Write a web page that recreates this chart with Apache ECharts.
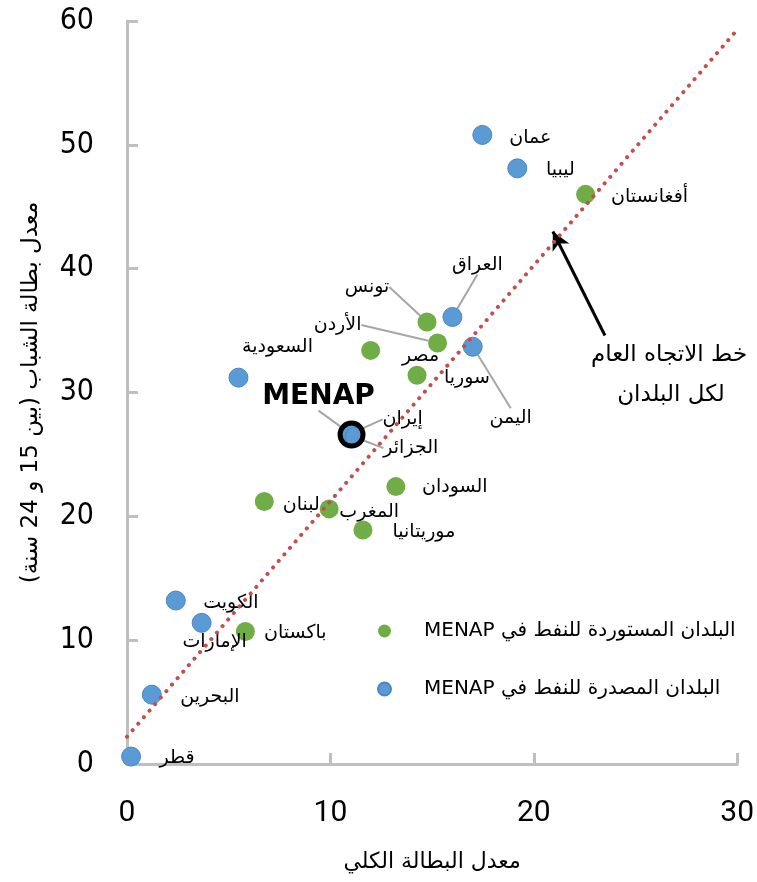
<!DOCTYPE html>
<html dir="rtl" lang="ar">
<head>
<meta charset="utf-8">
<script src="https://cdn.jsdelivr.net/npm/echarts@6/dist/echarts.min.js"></script>
<style>
html,body{margin:0;padding:0;background:#fff;overflow:hidden;}
#chart{width:757px;height:882px;}
</style>
</head>
<body>
<div id="chart"></div>
<script>
// ---- Data ----
const exporterNames = ['عمان','ليبيا','العراق','اليمن','السعودية','إيران','الجزائر','الكويت','الإمارات','البحرين','قطر'];
const exporterTotal = [17.47, 19.19, 16.0, 17.0, 5.48, 11.05, 11.2, 2.40, 3.67, 1.22, 0.2];
const exporterYouth = [50.8, 48.1, 36.1, 33.7, 31.2, 26.7, 26.4, 13.2, 11.4, 5.6, 0.6];

const importerNames = ['أفغانستان','تونس','الأردن','مصر','سوريا','السودان','لبنان','المغرب','موريتانيا','باكستان'];
const importerTotal = [22.55, 14.75, 15.27, 11.98, 14.26, 13.22, 6.75, 9.94, 11.6, 5.82];
const importerYouth = [46.0, 35.7, 34.0, 33.4, 31.4, 22.4, 21.2, 20.6, 18.9, 10.7];

const menapNames = ['MENAP'];
const menapTotal = [11.04];
const menapYouth = [26.6];

const trendX = [0.0, 29.9];
const trendY = [2.2, 59.1];

const arrowFrom = [23.5, 34.6];
const arrowTo = [20.94, 43.0];

const xTicks = [0, 10, 20, 30];
const yTicks = [0, 10, 20, 30, 40, 50, 60];

const importerLegend = 'البلدان المستوردة للنفط في MENAP';
const exporterLegend = 'البلدان المصدرة للنفط في MENAP';
const xTitle = 'معدل البطالة الكلي';
const yTitle = 'معدل بطالة الشباب (بين 15 و 24 سنة)';
const noteLines = ['خط الاتجاه العام', 'لكل البلدان'];

// ---- Label placement (style/layout, pixels relative to the point centre) ----
const labelOffsets = {
  'عمان':[48,3], 'ليبيا':[43,2], 'العراق':[25,-52], 'اليمن':[38,71], 'السعودية':[39,-31],
  'إيران':[51,-14], 'الجزائر':[56,11], 'الكويت':[55,3], 'الإمارات':[13,19], 'البحرين':[58,2], 'قطر':[46,1],
  'أفغانستان':[64,3], 'تونس':[-60,-35], 'الأردن':[-100,-18], 'مصر':[50,6], 'سوريا':[50,3],
  'السودان':[59,0], 'لبنان':[37,4], 'المغرب':[40,3], 'موريتانيا':[61,2], 'باكستان':[50,2],
  'MENAP':[-33,-38]
};
const leaderNames = ['العراق','اليمن','تونس','الأردن','إيران','الجزائر','MENAP'];

const AR_FONT = "'DejaVu Sans', sans-serif";

function buildData(names, xs, ys) {
  return names.map((n, i) => {
    const item = { name: n, value: [xs[i], ys[i]] };
    if (leaderNames.indexOf(n) >= 0) item.labelLine = { show: true };
    return item;
  });
}
function makeLayout(names) {
  return function (p) {
    const o = labelOffsets[names[p.dataIndex]] || [30, 0];
    return {
      x: p.rect.x + p.rect.width / 2 + o[0],
      y: p.rect.y + p.rect.height / 2 + o[1],
      align: 'center',
      verticalAlign: 'middle'
    };
  };
}

const labelStyle = { show: true, formatter: '{b}', color: '#000', fontSize: 19, fontFamily: AR_FONT };
const leaderStyle = { show: false, lineStyle: { color: '#A6A6A6', width: 2 } };
const axisGray = { color: '#BFBFBF', width: 3 };

const chart = echarts.init(document.getElementById('chart'), null, { renderer: 'canvas' });
chart.setOption({
  animation: false,
  backgroundColor: '#fff',
  grid: { left: 127, right: 17, top: 21, bottom: 118, containLabel: false },
  xAxis: {
    type: 'value', min: xTicks[0], max: xTicks[xTicks.length - 1], interval: 10,
    axisLine: { show: true, lineStyle: axisGray },
    axisTick: { show: true, inside: true, length: 11, lineStyle: axisGray },
    splitLine: { show: false },
    axisLabel: { margin: 34, fontSize: 30, fontFamily: "'Liberation Sans Narrow', Roboto, sans-serif", color: '#000' },
    name: xTitle, nameLocation: 'middle', nameGap: 87,
    nameTextStyle: { fontSize: 22, fontFamily: AR_FONT, color: '#000' }
  },
  yAxis: {
    type: 'value', min: yTicks[0], max: yTicks[yTicks.length - 1], interval: 10,
    axisLine: { show: true, lineStyle: axisGray },
    axisTick: { show: true, inside: true, length: 11, lineStyle: axisGray },
    splitLine: { show: false },
    axisLabel: { margin: 33, fontSize: 30, fontFamily: "'DejaVu Sans Condensed', 'DejaVu Sans', sans-serif", color: '#000' },
    name: yTitle, nameLocation: 'middle', nameRotate: 90, nameGap: 84,
    nameTextStyle: { fontSize: 23, fontFamily: AR_FONT, color: '#000' }
  },
  legend: {
    orient: 'vertical', left: 372, top: 616, itemGap: 38,
    itemWidth: 13, itemHeight: 13, icon: 'circle',
    data: [importerLegend, exporterLegend],
    textStyle: { fontSize: 20, fontFamily: AR_FONT, color: '#000', padding: [0, 0, 0, 28] },
    selectedMode: false
  },
  series: [
    {
      name: exporterLegend, type: 'scatter', symbol: 'circle', symbolSize: 19, z: 3,
      itemStyle: { color: '#5B9BD5', borderColor: '#4A86C5', borderWidth: 1, opacity: 1 },
      label: labelStyle, labelLine: leaderStyle,
      labelLayout: makeLayout(exporterNames),
      data: buildData(exporterNames, exporterTotal, exporterYouth)
    },
    {
      name: importerLegend, type: 'scatter', symbol: 'circle', symbolSize: 19, z: 3,
      itemStyle: { color: '#70AD47', opacity: 1 },
      label: labelStyle, labelLine: leaderStyle,
      labelLayout: makeLayout(importerNames),
      data: buildData(importerNames, importerTotal, importerYouth)
    },
    {
      name: 'MENAP', type: 'scatter', symbol: 'circle', symbolSize: 23, z: 4,
      itemStyle: { color: 'rgba(0,0,0,0)', borderColor: '#000', borderWidth: 5, opacity: 1 },
      label: { show: true, formatter: '{b}', color: '#000', fontSize: 28, fontWeight: 'bold', fontFamily: "'DejaVu Sans', sans-serif", textBorderWidth: 0 },
      labelLine: leaderStyle,
      labelLayout: makeLayout(menapNames),
      data: buildData(menapNames, menapTotal, menapYouth)
    },
    {
      name: 'trend', type: 'line', symbol: 'none', z: 5, silent: true,
      lineStyle: { color: '#C0504D', width: 4, type: [0.1, 8.5], cap: 'round' },
      data: trendX.map((x, i) => [x, trendY[i]]),
      markLine: {
        silent: true, symbol: ['none', 'arrow'], symbolSize: [14, 18],
        lineStyle: { color: '#000', width: 3, type: 'solid' },
        label: { show: false },
        data: [[{ coord: arrowFrom }, { coord: arrowTo }]]
      }
    }
  ],
  graphic: [
    { type: 'text', x: 669, y: 355, style: { text: noteLines[0], align: 'center', verticalAlign: 'middle', font: "23px 'DejaVu Sans', sans-serif", fill: '#000' } },
    { type: 'text', x: 671, y: 395, style: { text: noteLines[1], align: 'center', verticalAlign: 'middle', font: "23px 'DejaVu Sans', sans-serif", fill: '#000' } }
  ]
});
</script>
</body>
</html>
